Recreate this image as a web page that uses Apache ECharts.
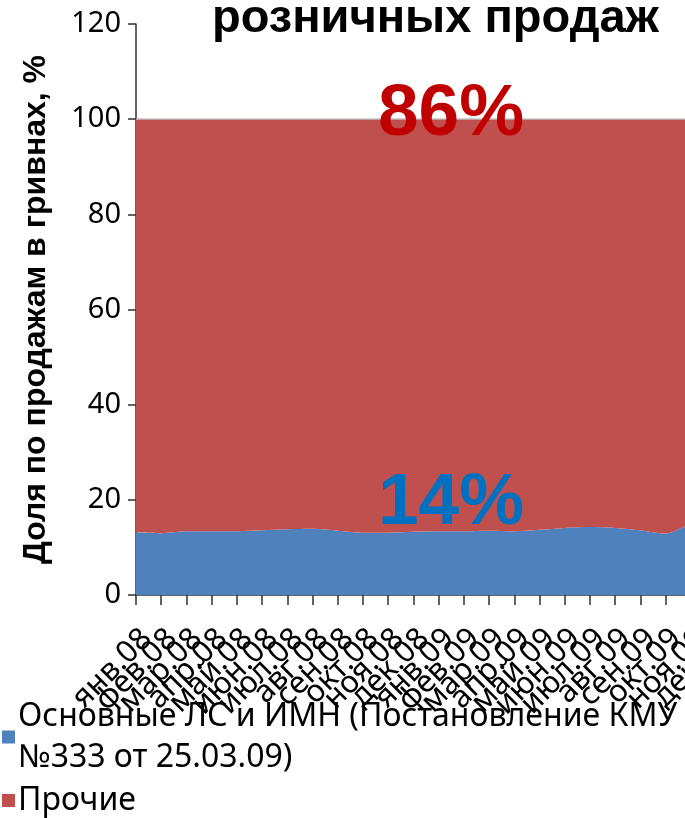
<!DOCTYPE html>
<html>
<head>
<meta charset="utf-8">
<script src="https://cdn.jsdelivr.net/npm/echarts@6/dist/echarts.min.js"></script>
<style>html,body{margin:0;padding:0;background:#fff;overflow:hidden;}#c{width:720px;height:818px;}</style>
</head>
<body>
<div id="c"></div>
<script>
var months = ['янв.08','фев.08','мар.08','апр.08','май.08','июн.08','июл.08','авг.08','сен.08','окт.08','ноя.08','дек.08',
              'янв.09','фев.09','мар.09','апр.09','май.09','июн.09','июл.09','авг.09','сен.09','окт.09','ноя.09','дек.09'];
var mainShare = [13.2, 13.0, 13.4, 13.4, 13.4, 13.6, 13.8, 13.9, 13.5, 13.1, 13.1, 13.3,
                 13.4, 13.4, 13.5, 13.4, 13.7, 14.1, 14.3, 14.1, 13.6, 12.9, 14.6, 14.4];
var otherShare = [86.8, 87.0, 86.6, 86.6, 86.6, 86.4, 86.2, 86.1, 86.5, 86.9, 86.9, 86.7,
                  86.6, 86.6, 86.5, 86.6, 86.3, 85.9, 85.7, 85.9, 86.4, 87.1, 85.4, 85.6];
var seriesNames = ['Основные ЛС и ИМН (Постановление КМУ №333 от 25.03.09)', 'Прочие'];
var yTicks = {min: 0, max: 120, interval: 20};

var chart = echarts.init(document.getElementById('c'), null, {renderer: 'canvas'});
chart.setOption({
  animation: false,
  backgroundColor: '#fff',
  grid: {left: 136, top: 24, height: 571, width: 580, containLabel: false, outerBoundsMode: 'none'},
  xAxis: {
    type: 'category', data: months, boundaryGap: false,
    axisLine: {show: true, lineStyle: {color: '#303030', width: 1.5}},
    axisTick: {show: true, interval: 0, length: 10, lineStyle: {color: '#303030', width: 1.5}},
    axisLabel: {interval: 0, rotate: 45, margin: 28, align: 'right', verticalAlign: 'top',
                color: '#000', fontFamily: 'Noto Sans', fontSize: 31},
    splitLine: {show: false}
  },
  yAxis: {
    type: 'value', min: yTicks.min, max: yTicks.max, interval: yTicks.interval,
    name: 'Доля по продажам в гривнах, %', nameLocation: 'middle', nameRotate: 90, nameGap: 84,
    nameTextStyle: {fontFamily: 'Liberation Sans', fontWeight: 'bold', fontSize: 32, color: '#000'},
    axisLine: {show: true, lineStyle: {color: '#303030', width: 1.5}},
    axisTick: {show: true, length: 8, lineStyle: {color: '#303030', width: 1.5}},
    axisLabel: {margin: 15, color: '#000', fontFamily: 'Noto Sans', fontSize: 29},
    splitLine: {show: false}
  },
  legend: {
    orient: 'vertical', left: 2, top: 696, padding: 0, itemGap: 2,
    itemWidth: 13, itemHeight: 13, icon: 'rect',
    data: seriesNames,
    formatter: function (n) { return n.replace(' №', '\n№'); },
    textStyle: {fontFamily: 'Noto Sans', fontSize: 32, color: '#000', lineHeight: 41, padding: [0,0,0,-2]}
  },
  series: [
    {name: seriesNames[0], type: 'line', stack: 'total', data: mainShare, smooth: 0.3,
     showSymbol: false, itemStyle: {color: '#4F81BD'}, lineStyle: {width: 0},
     areaStyle: {color: '#4F81BD', opacity: 1}},
    {name: seriesNames[1], type: 'line', stack: 'total', data: otherShare, smooth: 0.3,
     showSymbol: false, itemStyle: {color: '#C0504D'}, lineStyle: {width: 1.5, color: '#b8a4a3'},
     areaStyle: {color: '#C0504D', opacity: 1}}
  ],
  graphic: [
    {type: 'text', left: 212, top: -4, style: {text: 'розничных продаж', font: 'bold 47px "Liberation Sans"', fill: '#000'}},
    {type: 'text', left: 378, top: 78, z: 10, style: {text: '86%', font: 'bold 73px "Liberation Sans"', fill: '#C00000'}},
    {type: 'text', left: 378, top: 467, z: 10, style: {text: '14%', font: 'bold 73px "Liberation Sans"', fill: '#0070C0'}}
  ]
});
</script>
</body>
</html>
